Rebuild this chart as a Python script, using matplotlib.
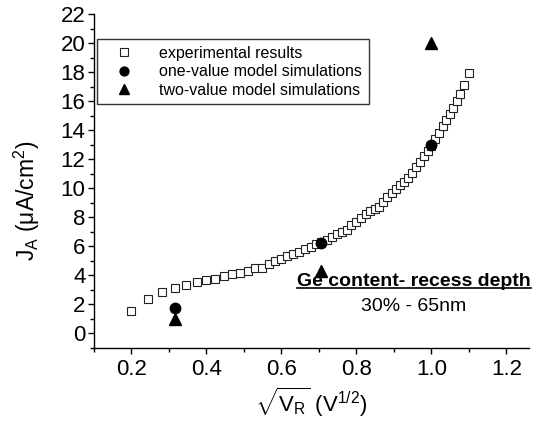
"""
plot.py
Anode current density against sqrt of reverse voltage: measured points
together with the one-value and two-value model simulations.
"""

import matplotlib
matplotlib.use("Agg")
import matplotlib.pyplot as plt
from matplotlib.lines import Line2D
from matplotlib.ticker import MultipleLocator

# experimental J_A (uA/cm^2) vs sqrt(V_R)
exp_x = [0.200, 0.245, 0.283, 0.316, 0.346, 0.374, 0.400, 0.424, 0.447, 0.469,
         0.490, 0.510, 0.529, 0.548, 0.566, 0.583, 0.600, 0.616, 0.632, 0.648,
         0.663, 0.678, 0.693, 0.707, 0.721, 0.735, 0.748, 0.762, 0.775, 0.787,
         0.800, 0.812, 0.825, 0.837, 0.849, 0.860, 0.872, 0.883, 0.894, 0.906,
         0.917, 0.927, 0.938, 0.949, 0.959, 0.970, 0.980, 0.990, 1.000, 1.010,
         1.020, 1.030, 1.039, 1.049, 1.058, 1.068, 1.077, 1.086, 1.100]
exp_y = [1.55, 2.37, 2.85, 3.12, 3.33, 3.52, 3.66, 3.75, 3.95, 4.09,
         4.18, 4.30, 4.48, 4.50, 4.76, 4.97, 5.10, 5.33, 5.45, 5.61,
         5.81, 5.98, 6.15, 6.30, 6.45, 6.62, 6.83, 6.99, 7.15, 7.50,
         7.70, 7.95, 8.25, 8.43, 8.55, 8.75, 9.05, 9.40, 9.65, 9.95,
         10.20, 10.45, 10.75, 11.05, 11.45, 11.85, 12.25, 12.55, 12.95, 13.40,
         13.85, 14.30, 14.75, 15.10, 15.55, 16.05, 16.50, 17.10, 17.95]

# model simulations
sim_x = [0.316, 0.707, 1.000]
one_value_y = [1.75, 6.25, 13.0]
two_value_y = [1.0, 4.3, 20.0]

labels = ["experimental results", "one-value model simulations",
          "two-value model simulations"]

plt.rcParams["font.family"] = ["Liberation Sans", "DejaVu Sans"]
plt.rcParams["mathtext.fontset"] = "custom"
plt.rcParams["mathtext.rm"] = "Liberation Sans"
plt.rcParams["mathtext.it"] = "Liberation Sans"
plt.rcParams["mathtext.bf"] = "Liberation Sans:bold"

fig = plt.figure(figsize=(5.39, 4.37), dpi=100)
ax = fig.add_axes([0.174, 0.204, 0.807, 0.763])

ax.plot(exp_x, exp_y, ls="none", marker="s", ms=6, mfc="white",
        mec="#222222", mew=0.8, label=labels[0], zorder=2)
ax.plot(sim_x, one_value_y, ls="none", marker="o", ms=7.5, color="black",
        label=labels[1], zorder=3)
ax.plot(sim_x, two_value_y, ls="none", marker="^", ms=8, color="black",
        label=labels[2], zorder=3)

ax.set_xlim(0.1, 1.26)
ax.set_ylim(-1, 22)
ax.xaxis.set_major_locator(MultipleLocator(0.2))
ax.xaxis.set_minor_locator(MultipleLocator(0.1))
ax.yaxis.set_major_locator(MultipleLocator(2))
ax.yaxis.set_minor_locator(MultipleLocator(1))
ax.set_xticks([0.2, 0.4, 0.6, 0.8, 1.0, 1.2])
ax.set_xticklabels(["0.2", "0.4", "0.6", "0.8", "1.0", "1.2"])

for side in ("top", "right"):
    ax.spines[side].set_visible(False)
for side in ("left", "bottom"):
    ax.spines[side].set_linewidth(1.0)

ax.tick_params(which="major", direction="out", length=4, width=1.0,
               labelsize=16, pad=2)
ax.tick_params(which="minor", direction="out", length=3, width=1.0)
ax.tick_params(axis="x", which="major", pad=4)

ax.set_xlabel(r"$\sqrt{\mathrm{V_R}}$ (V$^{1/2}$)", fontsize=16, labelpad=4)
ax.set_ylabel(r"J$_\mathrm{A}$ ($\mu$A/cm$^2$)", fontsize=16.5)
ax.yaxis.set_label_coords(-0.12, 0.44)

leg = ax.legend(loc="upper left", bbox_to_anchor=(0.0, 0.935), fontsize=11.5,
                frameon=True, fancybox=False, edgecolor="black",
                handletextpad=0.9, borderpad=0.4, labelspacing=0.22,
                handlelength=2.6, borderaxespad=0.2, markerscale=0.85)
leg.get_frame().set_linewidth(1.0)

# composition / recess depth note
title_txt = ax.text(0.954, 3.6, "Ge content- recess depth", fontsize=14,
                    fontweight="bold", ha="center", va="center")
ax.text(0.954, 1.85, "30% - 65nm", fontsize=14, ha="center", va="center")

# underline the bold heading
fig.canvas.draw()
bb = title_txt.get_window_extent().transformed(fig.transFigure.inverted())
fig.add_artist(Line2D([bb.x0, bb.x1], [bb.y0 + 0.003, bb.y0 + 0.003],
                      color="black", lw=1.2, transform=fig.transFigure))

fig.savefig("out.png", dpi=100)
